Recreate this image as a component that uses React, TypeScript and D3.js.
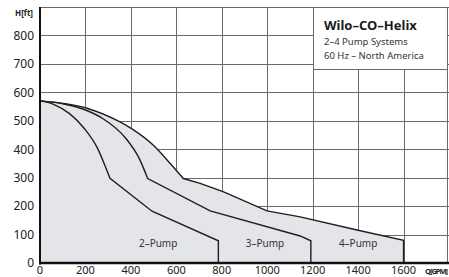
import { useEffect, useRef } from "react";
import * as d3 from "d3";

// [GPM, ft]; the first part of each curve is smooth up to the first kink
const pump2: [number, number][] = [
  [0, 570], [60, 558], [130, 525], [195, 473], [254, 402], [291, 332], [308, 298],
  [493, 182], [785, 78],
];
const pump3: [number, number][] = [
  [0, 570], [100, 560], [203, 537], [276, 508], [379, 437], [437, 367], [474, 297],
  [749, 183], [1145, 95], [1192, 78],
];
const pump4: [number, number][] = [
  [0, 570], [203, 545], [352, 496], [408, 470], [499, 414], [573, 350], [631, 297],
  [705, 280], [808, 250], [999, 183], [1145, 162], [1395, 116], [1600, 80],
];
const kinkIndex = [6, 6, 6];
const pumpLabels = ["2–Pump", "3–Pump", "4–Pump"];
const labelQ = [520, 990, 1400];
const yTicks = [0, 100, 200, 300, 400, 500, 600, 700, 800];
const xTicks = [0, 200, 400, 600, 800, 1000, 1200, 1400, 1600];
const legendLines = ["2–4 Pump Systems", "60 Hz – North America"];

export default function App() {
  const ref = useRef<SVGSVGElement | null>(null);

  useEffect(() => {
    if (!ref.current) return;
    const width = 449;
    const height = 277;
    const left = 40, right = 449, top = 7, bottom = 263;
    const font = "'Noto Sans', sans-serif";

    const svg = d3.select(ref.current);
    svg.selectAll("*").remove();

    const x = d3.scaleLinear().domain([0, 1800]).range([left, right]);
    const y = d3.scaleLinear().domain([0, 900]).range([bottom, top]);

    svg.append("rect").attr("width", width).attr("height", height).attr("fill", "#fff");

    // grid
    const grid = svg.append("g").attr("stroke", "#6a6a6a").attr("stroke-width", 1);
    yTicks.filter(d => d > 0).forEach(d => {
      grid.append("line").attr("x1", left).attr("x2", right).attr("y1", Math.round(y(d)) + 0.5).attr("y2", Math.round(y(d)) + 0.5);
    });
    xTicks.filter(d => d > 0).forEach(d => {
      grid.append("line").attr("y1", top).attr("y2", bottom).attr("x1", Math.round(x(d)) + 0.5).attr("x2", Math.round(x(d)) + 0.5);
    });
    grid.append("line").attr("x1", left).attr("x2", right).attr("y1", top + 0.5).attr("y2", top + 0.5);
    grid.append("line").attr("x1", right - 1.5).attr("x2", right - 1.5).attr("y1", top).attr("y2", bottom);

    // smooth head + straight tail
    const smooth = d3.line<[number, number]>().x(d => x(d[0])).y(d => y(d[1])).curve(d3.curveMonotoneX);
    const curvePath = (s: [number, number][], k: number) => {
      const head = smooth(s.slice(0, k + 1)) || "";
      const tail = s.slice(k + 1).map(d => `L${x(d[0])},${y(d[1])}`).join("");
      return head + tail;
    };
    const series = [pump2, pump3, pump4];

    // filled areas
    [2, 1, 0].forEach(i => {
      const s = series[i];
      const last = s[s.length - 1];
      const d = curvePath(s, kinkIndex[i]) + `L${x(last[0])},${y(0)}L${x(0)},${y(0)}Z`;
      svg.append("path").attr("d", d).attr("fill", "#e4e5e8");
    });

    // curves with vertical end lines
    series.forEach((s, i) => {
      const last = s[s.length - 1];
      const d = curvePath(s, kinkIndex[i]) + `L${x(last[0])},${y(0)}`;
      svg.append("path").attr("d", d).attr("fill", "none")
        .attr("stroke", "#1e1e1e").attr("stroke-width", 1.4).attr("stroke-linejoin", "miter");
    });

    // pump labels
    pumpLabels.forEach((t, i) => {
      svg.append("text").attr("x", x(labelQ[i])).attr("y", 247).attr("text-anchor", "middle")
        .attr("font-family", font).attr("font-size", 10).attr("fill", "#333").text(t);
    });

    // axes
    svg.append("line").attr("x1", left).attr("x2", left).attr("y1", top).attr("y2", bottom + 1.5)
      .attr("stroke", "#111").attr("stroke-width", 2);
    svg.append("line").attr("x1", left - 1).attr("x2", right).attr("y1", bottom).attr("y2", bottom)
      .attr("stroke", "#111").attr("stroke-width", 2.5);

    yTicks.forEach(d => {
      svg.append("text").attr("x", 34).attr("y", y(d)).attr("dy", "0.36em").attr("text-anchor", "end")
        .attr("font-family", font).attr("font-size", 12).attr("fill", "#222").text(d);
    });
    xTicks.forEach(d => {
      svg.append("text").attr("x", x(d)).attr("y", 273.5).attr("text-anchor", "middle")
        .attr("font-family", font).attr("font-size", 11).attr("fill", "#222").text(d);
    });
    svg.append("text").attr("x", 33).attr("y", 16).attr("text-anchor", "end")
      .attr("font-family", font).attr("font-size", 8).attr("font-weight", 700).attr("fill", "#222").text("H[ft]");
    svg.append("text").attr("x", 425).attr("y", 273.5).attr("textLength", 23)
      .attr("font-family", font).attr("font-size", 7.5).attr("font-weight", 700).attr("fill", "#222").text("Q[GPM]");

    // legend box
    svg.append("rect").attr("x", 313.5).attr("y", top + 0.5).attr("width", 134).attr("height", 62)
      .attr("fill", "#fff").attr("stroke", "#6a6a6a");
    svg.append("text").attr("x", 324).attr("y", 30).attr("font-family", font).attr("font-size", 13)
      .attr("font-weight", 700).attr("fill", "#1a1a1a").text("Wilo–CO–Helix");
    legendLines.forEach((t, i) => {
      svg.append("text").attr("x", 324).attr("y", 45 + i * 13.5).attr("font-family", font)
        .attr("font-size", 9.5).attr("fill", "#333").text(t);
    });
  }, []);

  return (
    <svg ref={ref} width={449} height={277} style={{ position: "absolute", left: 0, top: 0 }} />
  );
}
